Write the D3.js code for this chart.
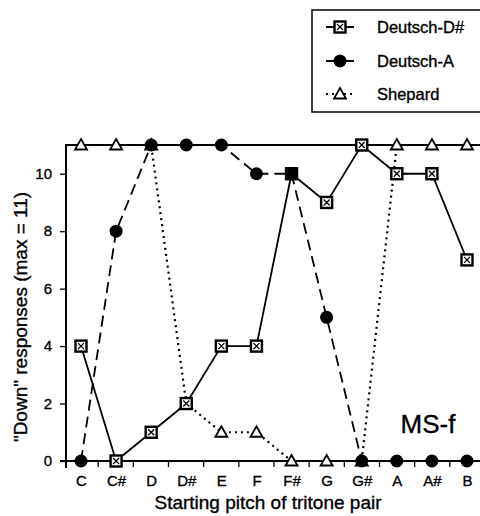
<!DOCTYPE html>
<html>
<head>
<meta charset="utf-8">
<script src="https://cdn.jsdelivr.net/npm/d3@7/dist/d3.min.js"></script>
<style>
  html, body { margin: 0; padding: 0; background: #fff; }
  svg { display: block; }
  text { font-family: "Liberation Sans", Arial, Helvetica, sans-serif; fill: #000; stroke: #000; stroke-width: 0.35px; }
</style>
</head>
<body>
<svg id="chart" width="480" height="516"></svg>
<script>
// Starting pitch of each tritone pair
const pitches = ["C", "C#", "D", "D#", "E", "F", "F#", "G", "G#", "A", "A#", "B"];
// "Down" responses out of 11 for each tone set
const deutschDs = [4, 0, 1, 2, 4, 4, 10, 9, 11, 10, 10, 7];
const deutschA  = [0, 8, 11, 11, 11, 10, 10, 5, 0, 0, 0, 0];
const shepard   = [11, 11, 11, 2, 1, 1, 0, 0, 0, 11, 11, 11];
const yTicks = [0, 2, 4, 6, 8, 10];
const panelLabel = "MS-f";

const svg = d3.select("#chart");
const W = 480, H = 516;
const plotLeft = 66, plotTop = 145, plotBottom = 461;

const x = d3.scalePoint().domain(pitches).range([81, 467]);
const xBand = d3.scaleBand().domain(pitches).range([63, 485]).paddingInner(0);
const y = d3.scaleLinear().domain([0, 11]).range([plotBottom, plotTop]);

// frame: top line
svg.append("line").attr("x1", plotLeft).attr("x2", W).attr("y1", plotTop).attr("y2", plotTop)
  .attr("stroke", "#000").attr("stroke-width", 2);

// y axis
const yAxis = d3.axisLeft(y).tickValues(yTicks).tickSize(6).tickPadding(8);
const gy = svg.append("g").attr("transform", `translate(${plotLeft},0)`).call(yAxis);
gy.select(".domain").remove();
gy.selectAll("text").style("font-size", "15px");
gy.selectAll("line").attr("stroke-width", 1.3);
svg.append("line").attr("x1", plotLeft).attr("x2", plotLeft).attr("y1", plotTop - 1).attr("y2", plotBottom + 7)
  .attr("stroke", "#000").attr("stroke-width", 2);

// x axis: ticks on the category boundaries, labels at the centres
svg.append("line").attr("x1", plotLeft - 6).attr("x2", W).attr("y1", plotBottom).attr("y2", plotBottom)
  .attr("stroke", "#000").attr("stroke-width", 2);
const xAxis = d3.axisBottom(x).tickSize(0).tickPadding(14);
const gx = svg.append("g").attr("transform", `translate(0,${plotBottom})`).call(xAxis);
gx.select(".domain").remove();
gx.selectAll("text").style("font-size", "15px");
svg.append("g").selectAll("line")
  .data(pitches.slice(1))
  .join("line")
  .attr("x1", d => xBand(d)).attr("x2", d => xBand(d))
  .attr("y1", plotBottom).attr("y2", plotBottom + 6)
  .attr("stroke", "#000").attr("stroke-width", 1.3);

// axis titles
svg.append("text").attr("x", 268).attr("y", 509).attr("text-anchor", "middle")
  .style("font-size", "19px").text("Starting pitch of tritone pair");
svg.append("text").attr("transform", "translate(27,317) rotate(-90)")
  .attr("text-anchor", "middle").style("font-size", "19px")
  .text("\"Down\" responses (max = 11)");

svg.append("text").attr("x", 428).attr("y", 433).attr("text-anchor", "middle")
  .style("font-size", "26px").text(panelLabel);

const line = d3.line().x((d, i) => x(pitches[i])).y(d => y(d));

// series lines
svg.append("path").datum(shepard).attr("d", line).attr("fill", "none")
  .attr("stroke", "#000").attr("stroke-width", 2.2).attr("stroke-dasharray", "2,4");
svg.append("path").datum(deutschA).attr("d", line).attr("fill", "none")
  .attr("stroke", "#000").attr("stroke-width", 1.8).attr("stroke-dasharray", "11,6");
svg.append("path").datum(deutschDs).attr("d", line).attr("fill", "none")
  .attr("stroke", "#000").attr("stroke-width", 1.8);

// marker drawers
function triangle(g, cx, cy) {
  g.append("path").attr("d", `M${cx},${cy - 6}L${cx + 6},${cy + 4.5}L${cx - 6},${cy + 4.5}Z`)
    .attr("fill", "#fff").attr("stroke", "#000").attr("stroke-width", 1.8);
}
function boxX(g, cx, cy) {
  const s = 5.5;
  g.append("rect").attr("x", cx - s).attr("y", cy - s).attr("width", 2 * s).attr("height", 2 * s)
    .attr("fill", "#fff").attr("stroke", "#000").attr("stroke-width", 2.4);
  g.append("path").attr("d", `M${cx - 3},${cy - 3}L${cx + 3},${cy + 3}M${cx + 3},${cy - 3}L${cx - 3},${cy + 3}`)
    .attr("stroke", "#000").attr("stroke-width", 1.3);
}
function dot(g, cx, cy) {
  g.append("circle").attr("cx", cx).attr("cy", cy).attr("r", 6.5).attr("fill", "#000");
}

const gm = svg.append("g");
shepard.forEach((v, i) => triangle(gm, x(pitches[i]), y(v)));
deutschDs.forEach((v, i) => boxX(gm, x(pitches[i]), y(v)));
deutschA.forEach((v, i) => dot(gm, x(pitches[i]), y(v)));

// legend
const legend = [
  { name: "Deutsch-D#", dash: null, mark: boxX },
  { name: "Deutsch-A", dash: null, mark: dot },
  { name: "Shepard", dash: "2,4", mark: triangle }
];
const lg = svg.append("g");
lg.append("rect").attr("x", 312).attr("y", 10).attr("width", 180).attr("height", 102)
  .attr("fill", "#fff").attr("stroke", "#000").attr("stroke-width", 1.5);
const rowY = [27, 61, 94];
legend.forEach((d, i) => {
  const ly = rowY[i];
  const l = lg.append("line").attr("x1", 326).attr("x2", 354).attr("y1", ly).attr("y2", ly)
    .attr("stroke", "#000").attr("stroke-width", 2);
  if (d.dash) l.attr("stroke-dasharray", d.dash).attr("stroke-width", 2.2);
  d.mark(lg, 340, ly);
  lg.append("text").attr("x", 377).attr("y", ly + 6).style("font-size", "16.5px").text(d.name);
});
</script>
</body>
</html>
